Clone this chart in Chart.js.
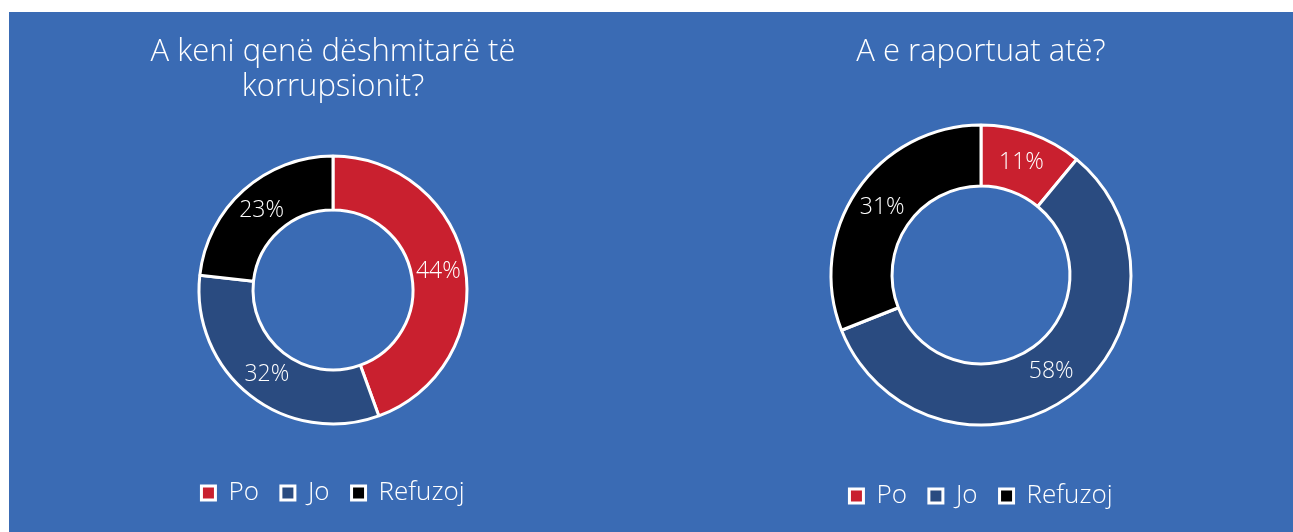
<!DOCTYPE html>
<html>
<head>
<meta charset="utf-8">
<script src="https://cdn.jsdelivr.net/npm/chart.js@4"></script>
<style>
  html, body { margin: 0; padding: 0; background: #fff; }
  #panel { position: absolute; left: 9px; top: 12px; width: 1284px; height: 520px; background: #3a6bb4; overflow: hidden; }
  #wrap-left { position: absolute; left: 0; top: 0; width: 648px; height: 520px; }
  #wrap-right { position: absolute; left: 660px; top: 0; width: 624px; height: 520px; }
</style>
</head>
<body>
<div id="panel">
  <div id="wrap-left"><canvas id="grafico-esquerda"></canvas></div>
  <div id="wrap-right"><canvas id="grafico-direita"></canvas></div>
</div>
<script>
// Dados
const categorias = ['Po', 'Jo', 'Refuzoj'];
const cores = ['#c9202f', '#2a4b80', '#000000'];
const tituloEsquerda = ['A keni qenë dëshmitarë të', 'korrupsionit?'];
const valoresEsquerda = [44, 32, 23];
const tituloDireita = 'A e raportuat atë?';
const valoresDireita = [11, 58, 31];

const fonte = "'Open Sans', sans-serif";

// Rótulos de porcentagem no meio de cada fatia
const rotulosPlugin = {
    id: 'rotulos',
    afterDatasetsDraw(chart) {
        const ctx = chart.ctx;
        const meta = chart.getDatasetMeta(0);
        const dados = chart.data.datasets[0].data;
        ctx.save();
        ctx.fillStyle = '#ffffff';
        ctx.font = "300 23px " + fonte;
        ctx.textAlign = 'center';
        ctx.textBaseline = 'middle';
        meta.data.forEach((arc, i) => {
            const p = arc.tooltipPosition();
            ctx.fillText(dados[i] + '%', p.x, p.y);
        });
        ctx.restore();
    }
};

function criarGrafico(id, titulo, valores, raio, miolo, padTitulo, padBaixo) {
    const ctx = document.getElementById(id).getContext('2d');
    return new Chart(ctx, {
        type: 'doughnut',
        data: {
            labels: categorias,
            datasets: [{
                data: valores,
                backgroundColor: cores,
                borderColor: '#ffffff',
                borderWidth: 3,
                radius: raio,
                hoverOffset: 0
            }]
        },
        options: {
            responsive: true,
            maintainAspectRatio: false,
            animation: false,
            cutout: miolo,
            layout: { padding: { top: 0, bottom: padBaixo } },
            plugins: {
                title: {
                    display: true,
                    text: titulo,
                    color: '#ffffff',
                    font: { size: 31, family: fonte, weight: '300', lineHeight: 1.13 },
                    padding: { top: 23, bottom: padTitulo }
                },
                legend: {
                    display: true,
                    position: 'bottom',
                    labels: {
                        color: '#ffffff',
                        font: { size: 26, family: fonte, weight: '300' },
                        boxWidth: 14,
                        boxHeight: 14,
                        padding: 22
                    }
                },
                tooltip: { enabled: false }
            }
        },
        plugins: [rotulosPlugin]
    });
}

criarGrafico('grafico-esquerda', tituloEsquerda, valoresEsquerda, 134, '59.7%', 17, 16);
criarGrafico('grafico-direita', tituloDireita, valoresDireita, 150, '59.3%', 19, 13);
</script>
</body>
</html>
